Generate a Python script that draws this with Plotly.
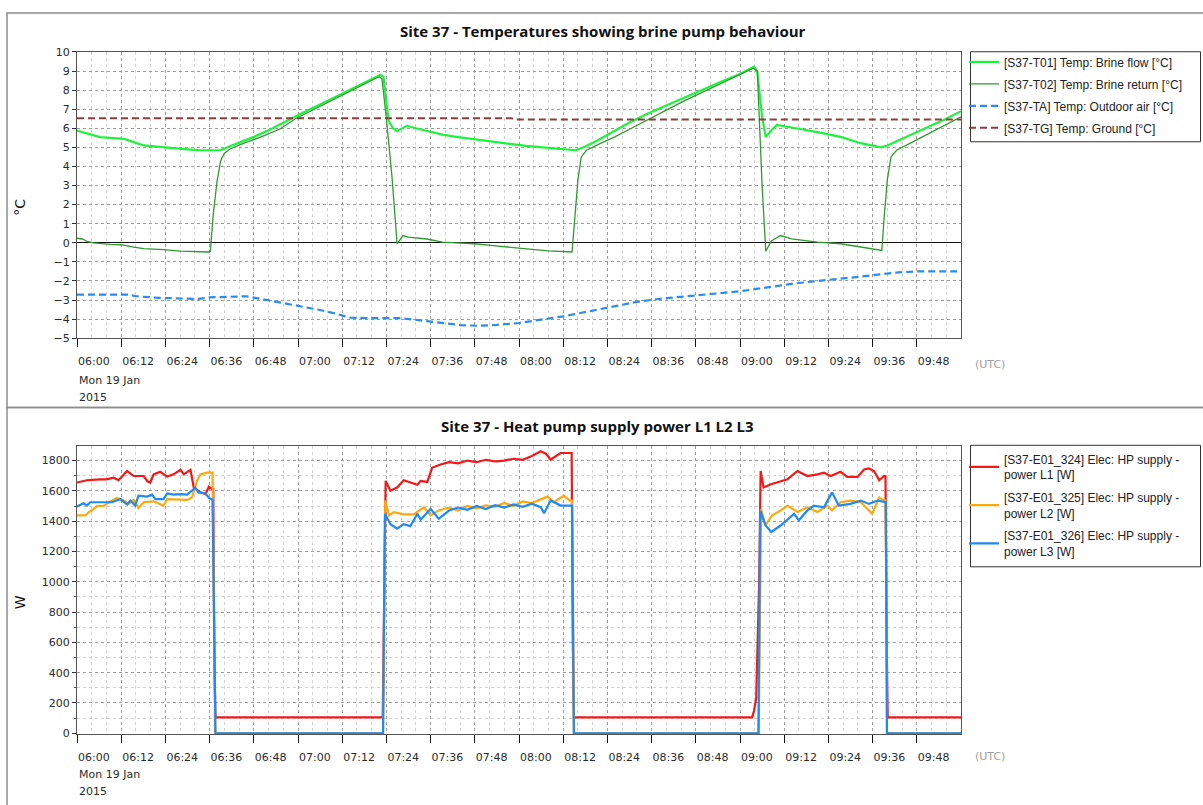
import pandas as pd
import plotly.graph_objects as go

W, H = 1203, 805
BASE = pd.Timestamp("2015-01-19 06:00")


def ts(minutes):
    return [(BASE + pd.Timedelta(minutes=m)).strftime("%Y-%m-%d %H:%M:%S") for m in minutes]


def px(x):
    return x / W


def py(y):
    return 1 - y / H


# ---- Temperatures (minutes after 06:00 UTC, degC) ----
flow_t = [0, 3, 6.3, 9, 12.7, 15, 18.1, 21, 24.4, 29.9, 33, 36.2, 38.9,
          41, 44, 48, 52, 55, 58, 62, 66, 70, 74, 78, 81, 82.4, 83.2, 84, 84.6, 85.8, 86.9,
          88, 89.6, 92, 95, 99.2, 103, 108, 112, 117, 122, 127, 131, 135.5,
          138, 141.3, 145, 150, 155, 160, 165, 170, 175, 180, 183.8, 184.7, 186, 187,
          188.5, 190, 192, 196.7, 201, 207.3, 212.8, 216, 218.3,
          220, 224, 228, 232, 236, 240]
flow_v = [5.88, 5.7, 5.54, 5.5, 5.45, 5.3, 5.10, 5.05, 4.98, 4.90, 4.86, 4.85, 4.85,
          5.02, 5.25, 5.55, 5.9, 6.2, 6.5, 6.88, 7.25, 7.62, 8.0, 8.38, 8.65, 8.8, 8.7, 7.3, 6.4, 6.0, 5.85,
          5.97, 6.13, 6.0, 5.85, 5.67, 5.55, 5.42, 5.3, 5.2, 5.08, 4.98, 4.92, 4.85,
          5.05, 5.36, 5.75, 6.3, 6.78, 7.2, 7.65, 8.05, 8.45, 8.85, 9.23, 8.97, 6.6, 5.54,
          5.9, 6.18, 6.1, 5.95, 5.8, 5.55, 5.22, 5.08, 5.0,
          5.1, 5.45, 5.8, 6.15, 6.5, 6.9]

return_t = [0, 1.5, 2.7, 4.5, 9, 12, 15.4, 18.1, 23.5, 28, 35.8, 36.2,
            37, 38, 39, 40, 41.7, 45, 50, 55, 59.3, 65, 70, 75, 80, 82, 82.8, 84, 85.5, 86.9,
            88.5, 90, 95, 99.2, 103, 108, 113, 118, 123, 128, 134.4,
            135.2, 136, 136.9, 138.3, 142, 146, 150, 155.7, 160, 165, 170, 175, 180, 183.6, 184.7,
            186, 187, 188.5, 191, 194, 201, 207.3, 212.8, 216, 218.5,
            219.2, 220, 221, 222.5, 226, 230, 235, 240]
return_v = [0.24, 0.2, 0.07, 0.0, -0.08, -0.1, -0.22, -0.31, -0.36, -0.44, -0.48, -0.45,
            1.5, 3.2, 4.3, 4.7, 4.93, 5.2, 5.55, 5.95, 6.5, 7.05, 7.55, 8.0, 8.5, 8.7, 8.6, 6.5, 3.5, -0.05,
            0.38, 0.3, 0.2, 0.04, 0.0, -0.05, -0.15, -0.25, -0.33, -0.42, -0.48,
            1.5, 3.3, 4.5, 4.85, 5.2, 5.55, 5.95, 6.5, 6.95, 7.45, 7.9, 8.35, 8.8, 9.15, 9.0,
            3.0, -0.44, 0.1, 0.38, 0.21, 0.04, -0.05, -0.22, -0.33, -0.4,
            1.5, 3.3, 4.5, 4.85, 5.2, 5.6, 6.1, 6.6]

air_t = [0, 14, 16, 22, 33, 36, 46, 51.6, 56, 60.7, 66, 70, 74.2, 80, 88, 95, 100, 104,
         109, 114, 120, 126, 132, 140, 147, 153, 160, 167, 174, 180, 187, 194, 200, 207,
         212.8, 218, 223, 228, 240]
air_v = [-2.71, -2.71, -2.8, -2.88, -2.94, -2.86, -2.8, -3.0, -3.15, -3.31, -3.52, -3.7,
         -3.92, -3.95, -3.95, -4.1, -4.22, -4.31, -4.35, -4.3, -4.2, -4.02, -3.85, -3.55,
         -3.3, -3.06, -2.9, -2.78, -2.65, -2.54, -2.35, -2.15, -2.02, -1.9, -1.77, -1.65,
         -1.55, -1.5, -1.5]

ground_t = [0, 118, 119, 240]
ground_v = [6.52, 6.52, 6.46, 6.46]

# ---- Heat pump supply power (minutes after 06:00 UTC, W) ----
l1_t = [0, 2.7, 6.3, 8, 9.9, 11.3, 13.6, 15.4, 18.1, 19.2, 19.9, 20.8, 22.6, 24.5, 26.2,
        28.1, 29, 30.8, 31.7, 33.5, 34.9, 35.8, 36.7, 37.0, 37.3, 37.6,
        83.0, 83.2, 83.4, 83.8, 85.1, 86.9, 88.7, 90.5, 92.4, 93.3, 95.1, 96.4, 98.7,
        101, 103.5, 106, 108.5, 111, 113.5, 116, 118.5, 121, 123.5, 125.9, 127.3, 128.6,
        131.3, 133.8, 134.3, 134.6, 134.9,
        183.3, 183.8, 184.4, 185.2, 185.6, 186.4, 188.4, 191.1, 192.9, 195.6, 198.3, 201,
        202.8, 204.6, 207.3, 209.1, 211.9, 213.7, 215, 216.4, 217.8, 219.1, 219.5, 219.8,
        220.1, 240]
l1_v = [1655, 1670, 1676, 1676, 1687, 1670, 1731, 1698, 1698, 1661, 1655, 1709, 1726, 1694,
        1709, 1739, 1709, 1739, 1622, 1590, 1579, 1627, 1611, 1611, 470, 105,
        105, 450, 880, 1666, 1601, 1622, 1670, 1655, 1640, 1666, 1659, 1752, 1774,
        1790, 1782, 1800, 1790, 1805, 1795, 1800, 1812, 1805, 1830, 1861, 1845, 1807,
        1850, 1850, 1850, 620, 105,
        105, 147, 234, 1000, 1731, 1622, 1644, 1661, 1677, 1731, 1698, 1709,
        1720, 1698, 1726, 1692, 1692, 1741, 1748, 1731, 1670, 1698, 1698, 640,
        105, 105]

l2_t = [0, 2.3, 3.2, 4, 5.4, 7.2, 9, 10.8, 12.7, 14, 15.4, 16.7, 18.1, 20.8, 23.5, 24.5,
        29.9, 31.2, 32.6, 33.5, 35.3, 36.8, 37.0, 37.2, 37.5,
        83.1, 83.4, 83.7, 84.7, 86, 88.7, 91.4, 94.2, 96, 98.2,
        101, 103.5, 106, 108.5, 111, 113.5, 116, 118.5, 121, 123.5, 125.9, 127.7, 129.5,
        132.2, 133.8, 134.4, 134.7, 134.9,
        185.1, 185.4, 185.7, 186.9, 188.7, 191.1, 192.9, 195.6, 198.3, 201, 203.7, 205,
        207.3, 210, 212.8, 215.9, 217.8, 219.1, 219.5, 219.7, 219.9, 240]
l2_v = [1438, 1438, 1460, 1470, 1499, 1501, 1529, 1553, 1536, 1514, 1540, 1488, 1525, 1531,
        1503, 1546, 1540, 1557, 1666, 1709, 1720, 1720, 1250, 420, 0,
        0, 800, 1536, 1438, 1460, 1445, 1445, 1492, 1438, 1471,
        1490, 1470, 1500, 1485, 1505, 1495, 1520, 1500, 1530, 1520, 1546, 1562, 1525,
        1568, 1536, 1536, 900, 0,
        0, 700, 1481, 1373, 1438, 1471, 1503, 1460, 1492, 1460, 1503, 1471,
        1525, 1536, 1525, 1449, 1557, 1536, 1536, 1100, 0, 0]

l3_t = [0, 1.8, 2.7, 3.6, 9.5, 11.8, 13.6, 14.5, 15.8, 16.7, 19, 20.4, 21.3, 23.5, 24.5,
        26.2, 28, 29.9, 31.2, 32.1, 33, 34.9, 35.8, 36.8, 37.6,
        83.1, 83.6, 85.1, 86.9, 88.7, 90.5, 92.4, 93.3, 96, 98.2,
        101, 103.5, 106, 108.5, 111, 113.5, 116, 118.5, 121, 123.5, 125.9, 126.8, 128.6,
        131.3, 133.8, 134.4, 134.9,
        185.0, 185.5, 186, 186.9, 188.5, 191.1, 194.7, 196, 198.3, 200, 202.8, 205, 206.8,
        210, 212.8, 215, 217.4, 219.1, 219.6, 219.9, 240]
l3_v = [1497, 1518, 1503, 1525, 1525, 1546, 1510, 1536, 1503, 1568, 1562, 1575, 1546, 1546,
        1583, 1575, 1579, 1575, 1601, 1622, 1590, 1583, 1553, 1542, 0,
        0, 1449, 1380, 1351, 1380, 1367, 1449, 1410, 1481, 1416,
        1470, 1490, 1475, 1500, 1480, 1505, 1490, 1510, 1495, 1515, 1492, 1453, 1536,
        1503, 1503, 1503, 0,
        0, 1470, 1438, 1373, 1329, 1373, 1449, 1406, 1471, 1503, 1492, 1590, 1503,
        1514, 1536, 1514, 1536, 1525, 1525, 0, 0]

tick_minutes = list(range(0, 240, 12))
tick_vals = ts(tick_minutes)
tick_text = [(BASE + pd.Timedelta(minutes=m)).strftime("%H:%M") for m in tick_minutes]

GRID_MAJOR = "#9c9c9c"
GRID_MINOR = "#d2d2d2"
TICK_FONT = dict(family="DejaVu Sans", size=11, color="#2b2b2b")
LEG_FONT = dict(family="Liberation Sans", size=12, color="#222222")

fig = go.Figure()

temp_series = [
    ("[S37-T01] Temp: Brine flow [°C]", flow_t, flow_v, "#1ef23e", 2.2, "solid"),
    ("[S37-T02] Temp: Brine return [°C]", return_t, return_v, "#2f9a2f", 1.3, "solid"),
    ("[S37-TA] Temp: Outdoor air [°C]", air_t, air_v, "#2a8cf0", 2.2, "7px,4px"),
    ("[S37-TG] Temp: Ground [°C]", ground_t, ground_v, "#8e3d3d", 2.0, "7px,4px"),
]
for i, (name, t, v, color, width, dash) in enumerate(temp_series):
    fig.add_trace(go.Scatter(
        x=ts(t), y=v, name=name, mode="lines", xaxis="x", yaxis="y",
        line=dict(color=color, width=width, dash=dash),
        legend="legend", legendgroup=f"t{i}",
    ))

power_series = [
    ("[S37-E01_324] Elec: HP supply -<br>power L1 [W]", l1_t, l1_v, "#f51818"),
    ("[S37-E01_325] Elec: HP supply -<br>power L2 [W]", l2_t, l2_v, "#fca80f"),
    ("[S37-E01_326] Elec: HP supply -<br>power L3 [W]", l3_t, l3_v, "#1e8af5"),
]
for i, (name, t, v, color) in enumerate(power_series):
    fig.add_trace(go.Scatter(
        x=ts(t), y=v, name=name, mode="lines", xaxis="x2", yaxis="y2",
        line=dict(color=color, width=2.2),
        legend="legend2", legendgroup=f"p{i}",
    ))

x_common = dict(
    type="date",
    range=[ts([0])[0], ts([240])[0]],
    tickmode="array", tickvals=tick_vals, ticktext=tick_text,
    ticks="outside", ticklen=8, tickcolor="#111111", tickwidth=1,
    ticklabelposition="outside right", ticklabelstandoff=13,
    tickfont=TICK_FONT,
    showgrid=True, gridcolor=GRID_MAJOR, griddash="dot", gridwidth=1,
    minor=dict(tick0=ts([0])[0], dtick=240000, showgrid=True,
               gridcolor=GRID_MINOR, gridwidth=1),
    showline=True, linecolor="#555555", linewidth=1, mirror=True,
    zeroline=False,
    domain=[px(77), px(961)],
)

fig.update_layout(
    width=W, height=H, autosize=False,
    margin=dict(l=0, r=0, t=0, b=0),
    paper_bgcolor="white", plot_bgcolor="white",
    showlegend=True,
    xaxis=dict(x_common, anchor="y"),
    yaxis=dict(
        range=[-5, 10], tickmode="linear", tick0=0, dtick=1,
        ticks="outside", ticklen=4, tickcolor="#333333",
        tickfont=TICK_FONT,
        showgrid=True, gridcolor=GRID_MAJOR, griddash="dot", gridwidth=1,
        zeroline=True, zerolinecolor="#111111", zerolinewidth=1.2,
        showline=True, linecolor="#555555", linewidth=1, mirror=True,
        domain=[py(337.7), py(46.7)], anchor="x",
    ),
    xaxis2=dict(x_common, anchor="y2"),
    yaxis2=dict(
        range=[-5, 1893], tickmode="linear", tick0=0, dtick=200,
        ticks="outside", ticklen=4, tickcolor="#333333",
        tickfont=TICK_FONT,
        showgrid=True, gridcolor=GRID_MAJOR, griddash="dot", gridwidth=1,
        minor=dict(dtick=100, showgrid=True, gridcolor=GRID_MINOR,
                   ticks="outside", ticklen=2, tickcolor="#555555"),
        zeroline=False,
        showline=True, linecolor="#555555", linewidth=1, mirror=True,
        domain=[py(740), py(447.7)], anchor="x2",
    ),
    legend=dict(
        x=px(964), y=py(42), xanchor="left", yanchor="top",
        bgcolor="rgba(0,0,0,0)", borderwidth=0, font=LEG_FONT,
        tracegroupgap=3, traceorder="grouped", itemwidth=30,
    ),
    legend2=dict(
        x=px(964), y=py(446), xanchor="left", yanchor="top",
        bgcolor="rgba(0,0,0,0)", borderwidth=0, font=LEG_FONT,
        tracegroupgap=4, traceorder="grouped", itemwidth=30,
    ),
)

# Panel frames and legend boxes
frame = dict(type="rect", xref="paper", yref="paper", layer="below")
fig.add_shape(frame, x0=px(7), x1=px(1215), y0=py(7), y1=py(408),
              line=dict(color="#8c8c8c", width=1.5))
fig.add_shape(frame, x0=px(7), x1=px(1215), y0=py(408), y1=py(815),
              line=dict(color="#8c8c8c", width=1.5))
fig.add_shape(frame, x0=px(970.5), x1=px(1200.5), y0=py(46.5), y1=py(138),
              line=dict(color="#333333", width=1))
fig.add_shape(frame, x0=px(970.5), x1=px(1200.5), y0=py(446.5), y1=py(570),
              line=dict(color="#333333", width=1))

ann_font = dict(family="DejaVu Sans", size=11, color="#2b2b2b")
title_font = dict(family="Open Sans", size=15, color="#111111")
annotations = [
    dict(text="<b>Site 37 - Temperatures showing brine pump behaviour</b>",
         x=px(603), y=py(25), font=title_font),
    dict(text="<b>Site 37 - Heat pump supply power L1 L2 L3</b>",
         x=px(597), y=py(427), font=title_font),
    dict(text="°C", x=px(20), y=py(205), textangle=-90,
         font=dict(family="DejaVu Sans", size=14, color="#111111")),
    dict(text="W", x=px(20), y=py(606), textangle=-90,
         font=dict(family="DejaVu Sans", size=14, color="#111111")),
    dict(text="(UTC)", x=px(973), y=py(364), xanchor="left",
         font=dict(family="DejaVu Sans", size=11, color="#a0a0a0")),
    dict(text="(UTC)", x=px(973), y=py(763), xanchor="left",
         font=dict(family="DejaVu Sans", size=11, color="#a0a0a0")),
    dict(text="Mon 19 Jan", x=px(77), y=py(381), xanchor="left", font=ann_font),
    dict(text="2015", x=px(77), y=py(398), xanchor="left", font=ann_font),
    dict(text="Mon 19 Jan", x=px(77), y=py(781), xanchor="left", font=ann_font),
    dict(text="2015", x=px(77), y=py(798), xanchor="left", font=ann_font),
]
for a in annotations:
    a.setdefault("xanchor", "center")
    fig.add_annotation(xref="paper", yref="paper", showarrow=False, yanchor="middle", **a)

fig.write_html("out.html")
